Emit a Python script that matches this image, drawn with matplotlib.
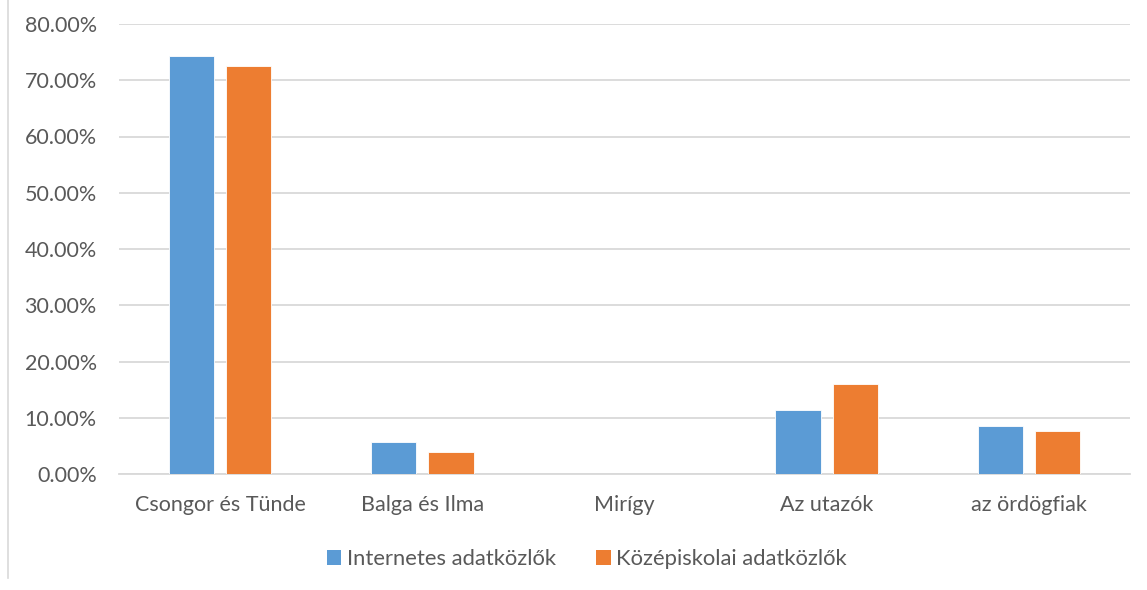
import matplotlib
matplotlib.use("Agg")
import matplotlib.pyplot as plt
import numpy as np
from matplotlib.patches import Patch
from matplotlib.lines import Line2D

categories = ["Csongor és Tünde", "Balga és Ilma", "Mirígy", "Az utazók", "az ördögfiak"]
series_names = ["Internetes adatközlők", "Középiskolai adatközlők"]
internetes = [74.3, 5.7, 0.0, 11.4, 8.5]
kozepiskolai = [72.5, 3.9, 0.0, 16.0, 7.6]
yticks = [0, 10, 20, 30, 40, 50, 60, 70, 80]

blue = "#5B9BD5"
orange = "#ED7D31"
txt = "#595959"
grid = "#D9D9D9"

plt.rcParams['font.family'] = ['Lato', 'DejaVu Sans']
fs = 15.5

fig = plt.figure(figsize=(11.47, 5.90), dpi=100)
ax = fig.add_axes([119/1147, 1-474/590, (1130-119)/1147, (474-24)/590])

x = np.arange(len(categories))
w = 0.223
off = 0.142
ax.bar(x - off, internetes, w, color=blue, edgecolor="white", linewidth=0.6, zorder=3)
ax.bar(x + off, kozepiskolai, w, color=orange, edgecolor="white", linewidth=0.6, zorder=3)

ax.set_xlim(-0.5, len(categories) - 0.5)
ax.set_ylim(0, 80)
ax.set_yticks(yticks)
ax.set_yticklabels([f"{v:.2f}%" for v in yticks])
ax.set_xticks(x)
ax.set_xticklabels(categories)
ax.yaxis.grid(True, color=grid, linewidth=1.3, zorder=0)
ax.set_axisbelow(True)
for s in ["top", "right", "left"]:
    ax.spines[s].set_visible(False)
ax.spines["bottom"].set_color(grid)
ax.spines["bottom"].set_linewidth(1.3)
ax.tick_params(axis="both", length=0, labelsize=fs, colors=txt)
ax.tick_params(axis="y", pad=16)
ax.tick_params(axis="x", pad=15)

handles = [Patch(facecolor=blue), Patch(facecolor=orange)]
fig.legend(handles, series_names, loc="center", bbox_to_anchor=(587/1147, 1-559/590),
           ncol=2, frameon=False, fontsize=15.8, labelcolor=txt,
           handlelength=0.64, handleheight=0.64, handletextpad=0.27, columnspacing=1.85)

fig.add_artist(Line2D([8/1147, 8/1147], [1-578/590, 1], color=grid, linewidth=1.2))

fig.savefig("out.png", dpi=100, facecolor="white")
